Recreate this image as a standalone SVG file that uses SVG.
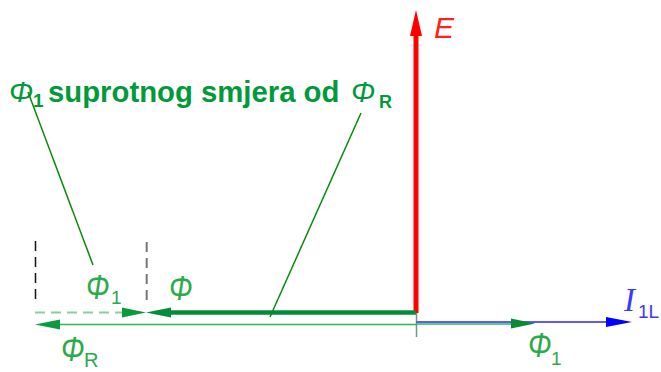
<svg xmlns="http://www.w3.org/2000/svg" width="661" height="372" viewBox="0 0 661 372">
<style>
.t{font-family:"Liberation Sans",Arial,sans-serif}
.title{font-weight:bold;fill:#009a3a}
.phi{font-style:italic;font-weight:normal}
.lab{fill:#2aaa4a;font-style:italic}
.sub{fill:#2aaa4a;font-style:normal}
.lead{stroke:#0a8a0a;stroke-width:1.5;fill:none}
</style>
<rect width="661" height="372" fill="#fff"/>
<g id="title">
<text class="t title phi" x="9" y="102" font-size="29">Φ</text>
<text class="t title" x="33" y="107" font-size="19">1</text>
<text class="t title" x="48" y="102" font-size="29.3">suprotnog smjera od</text>
<text class="t title phi" x="351" y="102" font-size="29">Φ</text>
<text class="t title" x="379" y="108" font-size="18">R</text>
</g>
<g id="connectors">
<line class="lead" x1="28" y1="92" x2="93" y2="265"/>
<line class="lead" x1="361" y1="113" x2="270" y2="317"/>
<line x1="35.5" y1="241" x2="35.5" y2="305" stroke="#111" stroke-width="1.5" stroke-dasharray="10 6"/>
<line x1="146.7" y1="242" x2="146.7" y2="305" stroke="#777" stroke-width="2" stroke-dasharray="10 6"/>
<line x1="416" y1="34" x2="416" y2="313" stroke="#ff0000" stroke-width="5"/>
<polygon points="416,10 410,36 422,36" fill="#ff0000"/>
<line x1="170" y1="312.5" x2="416" y2="312.5" stroke="#008c3a" stroke-width="4.5"/>
<polygon points="146,312.5 171,307.5 171,317.5" fill="#008c3a"/>
<line x1="35" y1="312.5" x2="123" y2="312.5" stroke="#88d098" stroke-width="2" stroke-dasharray="10 6"/>
<polygon points="146,312.5 122,307.5 122,317.5" fill="#0a9a40"/>
<line x1="59" y1="324.5" x2="416" y2="324.5" stroke="#33b455" stroke-width="1.5"/>
<polygon points="35,324.5 60,319.5 60,329.5" fill="#0a9a40"/>
<line x1="416.5" y1="313" x2="416.5" y2="337" stroke="#6a9a80" stroke-width="1.5"/>
<line x1="416" y1="322" x2="607" y2="322" stroke="#5a5aff" stroke-width="1.8"/>
<polygon points="632,322 606,317 606,327" fill="#0000ff"/>
<line x1="416" y1="324" x2="512" y2="324" stroke="#33b455" stroke-width="1.5"/>
<polygon points="535,323.5 511,318.5 511,328.5" fill="#0a8a35"/>
</g>
<g id="labels">
<text class="t" x="434" y="38" font-size="30" font-style="italic" fill="#ff2020">E</text>
<text class="t lab" transform="translate(86,299) scale(0.78,1)" font-size="36">Φ</text>
<text class="t sub" x="111" y="304" font-size="19">1</text>
<text class="t lab" transform="translate(169,300) scale(0.78,1)" font-size="36">Φ</text>
<text class="t lab" transform="translate(61,361) scale(0.78,1)" font-size="36">Φ</text>
<text class="t sub" x="84" y="367" font-size="20">R</text>
<text class="t lab" transform="translate(528,357) scale(0.78,1)" font-size="36">Φ</text>
<text class="t sub" x="551" y="365" font-size="19">1</text>
<text x="624" y="311" font-size="33" font-style="italic" fill="#3a3aff" font-family="'Liberation Serif','Times New Roman',serif">I</text>
<text class="t" x="638" y="318" font-size="19" fill="#3a3aff">1L</text>
</g>
</svg>
